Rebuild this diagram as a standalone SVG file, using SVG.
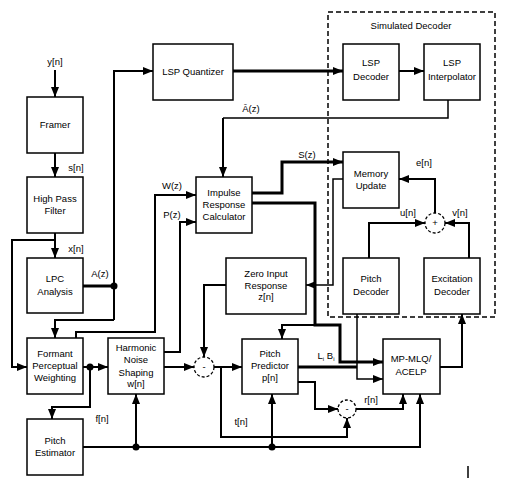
<svg xmlns="http://www.w3.org/2000/svg" width="506" height="483" viewBox="0 0 506 483">
<defs>
<style>
.box{fill:#fff;stroke:#000;stroke-width:1.5}
.t{font-family:"Liberation Sans",Arial,sans-serif;font-size:9.5px;fill:#000;text-anchor:middle}
.w{fill:none;stroke:#000;stroke-width:2}
.k{fill:none;stroke:#000;stroke-width:3}
.n{fill:none;stroke:#000;stroke-width:1.5}
.dot{fill:#000}
.sum{fill:#fff;stroke:#000;stroke-width:1.3;stroke-dasharray:3 2}
.dash{fill:none;stroke:#000;stroke-width:1.5;stroke-dasharray:5 3}
</style>
<marker id="a" markerUnits="userSpaceOnUse" markerWidth="10" markerHeight="8" viewBox="0 0 10 8" refX="10" refY="4" orient="auto">
<path d="M0,0 L10,4 L0,8 z" fill="#000"/>
</marker>
</defs>
<rect width="506" height="483" fill="#fff"/>

<g id="simulated-decoder">
<rect class="dash" x="328" y="12" width="167" height="305"/>
<text class="t" x="411" y="29">Simulated Decoder</text>
</g>

<g id="connectors">
<path class="w" d="M55,70 V97" marker-end="url(#a)"/>
<path class="w" d="M55,153 V177" marker-end="url(#a)"/>
<path class="w" d="M55,233 V258" marker-end="url(#a)"/>
<path class="w" d="M55,240 H12 V367 H27" marker-end="url(#a)"/>
<path class="k" d="M83,286 H114"/>
<path class="w" d="M114,320 V71 H153" marker-end="url(#a)"/>
<path class="w" d="M114,320 H55 V338" marker-end="url(#a)"/>
<path class="w" d="M76,338 V332 H155 V195 H196" marker-end="url(#a)"/>
<path class="w" d="M164,352 H180 V222 H196" marker-end="url(#a)"/>
<path class="w" d="M83,367 H108" marker-end="url(#a)"/>
<path class="w" d="M90,367 V407 H52 V419" marker-end="url(#a)"/>
<path class="w" d="M83,447 H420 V394" marker-end="url(#a)"/>
<path class="w" d="M136,447 V394" marker-end="url(#a)"/>
<path class="w" d="M272,447 V394" marker-end="url(#a)"/>
<path class="w" d="M164,367 H194" marker-end="url(#a)"/>
<path class="w" d="M226,285 H204 V357" marker-end="url(#a)"/>
<path class="w" d="M214,367 H242" marker-end="url(#a)"/>
<path class="w" d="M221,367 V437 H347 V418" marker-end="url(#a)"/>
<path class="w" d="M298,382 H315 V409 H338" marker-end="url(#a)"/>
<path class="w" d="M356,409 H403 V394" marker-end="url(#a)"/>
<path class="k" d="M298,367 H357"/>
<path class="n" d="M357,314 V379 H383" marker-end="url(#a)"/>
<path class="k" d="M252,193 H282 V162 H343" marker-end="url(#a)"/>
<path class="k" d="M252,203 H315 V325 H340 V362 H383" marker-end="url(#a)"/>
<path class="w" d="M315,325 H282 V339" marker-end="url(#a)"/>
<path class="n" d="M343,179 H333 V285 H306" marker-end="url(#a)"/>
<path class="k" d="M233,71 H343" marker-end="url(#a)"/>
<path class="w" d="M399,71 H424" marker-end="url(#a)"/>
<path class="n" d="M448,100 V118 H223"/>
<path class="w" d="M223,118 V177" marker-end="url(#a)"/>
<path class="w" d="M369,258 V223 H425" marker-end="url(#a)"/>
<path class="w" d="M469,258 V223 H445" marker-end="url(#a)"/>
<path class="w" d="M435,213 V179 H399" marker-end="url(#a)"/>
<path class="w" d="M440,367 H462 V314" marker-end="url(#a)"/>
<circle class="dot" cx="114" cy="286" r="3.5"/>
<circle class="dot" cx="90" cy="367" r="3.5"/>
<circle class="dot" cx="136" cy="447" r="3.5"/>
<circle class="dot" cx="272" cy="447" r="3.5"/>
<path class="n" d="M468,466 V478"/>
</g>

<g id="labels">
<text class="t" x="55" y="65">y[n]</text>
<text class="t" x="76" y="171">s[n]</text>
<text class="t" x="76" y="252">x[n]</text>
<text class="t" x="100" y="277">A(z)</text>
<text class="t" x="251" y="112">Ā(z)</text>
<text class="t" x="307" y="158">S(z)</text>
<text class="t" x="172" y="189">W(z)</text>
<text class="t" x="172" y="218">P(z)</text>
<text class="t" x="424" y="166">e[n]</text>
<text class="t" x="408" y="216">u[n]</text>
<text class="t" x="460" y="216">v[n]</text>
<text class="t" x="102" y="422">f[n]</text>
<text class="t" x="241" y="425">t[n]</text>
<text class="t" x="371" y="403">r[n]</text>
<text class="t" x="326" y="359">L<tspan font-size="6" dy="2">i</tspan><tspan dy="-2"> B</tspan><tspan font-size="6" dy="2">i</tspan></text>
</g>

<g id="framer"><rect class="box" x="27" y="97" width="56" height="56"/><text class="t" x="55" y="128">Framer</text></g>
<g id="high-pass-filter"><rect class="box" x="27" y="177" width="56" height="56"/><text class="t" x="55" y="202">High Pass</text><text class="t" x="55" y="214">Filter</text></g>
<g id="lpc-analysis"><rect class="box" x="27" y="258" width="56" height="55"/><text class="t" x="55" y="282">LPC</text><text class="t" x="55" y="295">Analysis</text></g>
<g id="lsp-quantizer"><rect class="box" x="153" y="44" width="80" height="56"/><text class="t" x="193" y="75">LSP Quantizer</text></g>
<g id="lsp-decoder"><rect class="box" x="343" y="44" width="56" height="56"/><text class="t" x="371" y="66">LSP</text><text class="t" x="371" y="80">Decoder</text></g>
<g id="lsp-interpolator"><rect class="box" x="424" y="44" width="56" height="56"/><text class="t" x="452" y="66">LSP</text><text class="t" x="452" y="80">Interpolator</text></g>
<g id="impulse-response"><rect class="box" x="196" y="177" width="56" height="56"/><text class="t" x="224" y="196">Impulse</text><text class="t" x="224" y="208">Response</text><text class="t" x="224" y="220">Calculator</text></g>
<g id="memory-update"><rect class="box" x="343" y="152" width="56" height="56"/><text class="t" x="371" y="177">Memory</text><text class="t" x="371" y="189">Update</text></g>
<g id="plus"><circle class="sum" cx="435" cy="223" r="10"/><text class="t" x="435" y="226">+</text></g>
<g id="zero-input-response"><rect class="box" x="226" y="258" width="80" height="56"/><text class="t" x="266" y="277">Zero Input</text><text class="t" x="266" y="289">Response</text><text class="t" x="266" y="300">z[n]</text></g>
<g id="pitch-decoder"><rect class="box" x="343" y="258" width="56" height="56"/><text class="t" x="371" y="282">Pitch</text><text class="t" x="371" y="295">Decoder</text></g>
<g id="excitation-decoder"><rect class="box" x="424" y="258" width="56" height="56"/><text class="t" x="452" y="282">Excitation</text><text class="t" x="452" y="295">Decoder</text></g>
<g id="formant-weighting"><rect class="box" x="27" y="338" width="56" height="56"/><text class="t" x="55" y="357">Formant</text><text class="t" x="55" y="369">Perceptual</text><text class="t" x="55" y="381">Weighting</text></g>
<g id="harmonic-noise-shaping"><rect class="box" x="108" y="338" width="56" height="56"/><text class="t" x="136" y="351">Harmonic</text><text class="t" x="136" y="363">Noise</text><text class="t" x="136" y="376">Shaping</text><text class="t" x="136" y="387">w[n]</text></g>
<g id="minus1"><circle class="sum" cx="204" cy="367" r="10"/><text class="t" x="204" y="370">-</text></g>
<g id="pitch-predictor"><rect class="box" x="242" y="339" width="56" height="55"/><text class="t" x="270" y="357">Pitch</text><text class="t" x="270" y="369">Predictor</text><text class="t" x="270" y="381">p[n]</text></g>
<g id="mp-mlq"><rect class="box" x="383" y="339" width="57" height="55"/><text class="t" x="411" y="362">MP-MLQ/</text><text class="t" x="411" y="375">ACELP</text></g>
<g id="minus2"><circle class="sum" cx="347" cy="409" r="9"/><text class="t" x="347" y="412">-</text></g>
<g id="pitch-estimator"><rect class="box" x="27" y="419" width="56" height="56"/><text class="t" x="55" y="444">Pitch</text><text class="t" x="55" y="456">Estimator</text></g>
</svg>
